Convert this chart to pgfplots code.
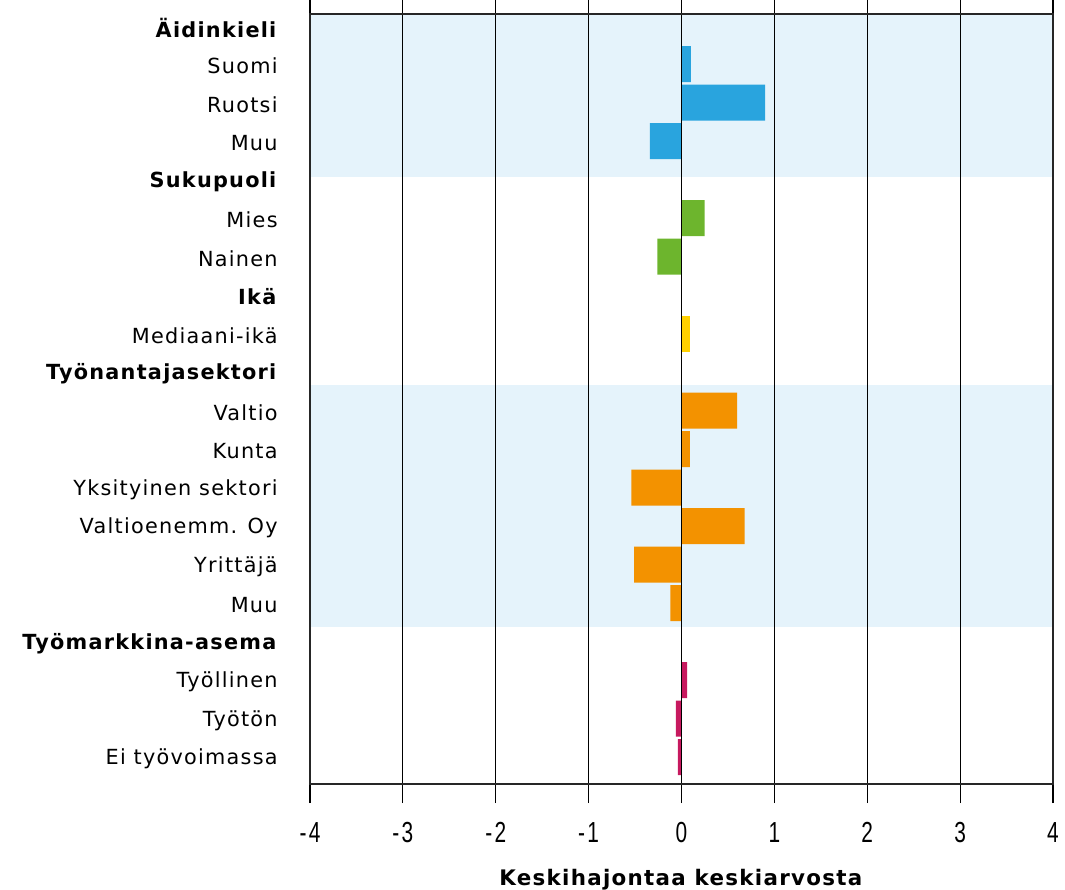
\documentclass[border=0pt]{standalone}
\usepackage{fontspec}
\setmainfont{DejaVu Sans}[LetterSpace=6]
\newfontfamily\cond{Liberation Sans}[FakeStretch=0.72, LetterSpace=8]
\usepackage{pgfplots}
\pgfplotsset{compat=1.18}
\definecolor{band}{HTML}{E5F3FB}
\definecolor{cblue}{HTML}{29A4DE}
\definecolor{cgreen}{HTML}{6DB52D}
\definecolor{cyellow}{HTML}{FFD100}
\definecolor{corange}{HTML}{F39200}
\definecolor{cmag}{HTML}{C7195F}
\begin{document}
\begin{tikzpicture}
\useasboundingbox (-155bp,-53bp) rectangle (377.5bp,392bp);
\begin{axis}[
  at={(0,0)}, anchor=south west,
  scale only axis,
  width=371.5bp, height=385bp,
  xmin=-4, xmax=4,
  ymin=-0.3, ymax=19.7,
  y dir=reverse,
  axis on top,
  axis line style={black!85, line width=0.7bp},
  xtick={-4,-3,-2,-1,0,1,2,3,4},
  xticklabels={-4,-3,-2,-1,0,1,2,3,4},
  xmajorgrids,
  grid style={black, line width=0.6bp},
  tick align=outside,
  major tick length=9.5bp,
  xtick style={black, line width=0.6bp},
  ytick style={draw=none},
  xticklabel style={font=\cond\fontsize{14.5bp}{16bp}\selectfont, anchor=north, yshift=-6bp},
  ytick={0,1,...,19},
  yticklabels={\textbf{Äidinkieli},Suomi,Ruotsi,Muu,\textbf{Sukupuoli},Mies,Nainen,\textbf{Ikä},Mediaani-ikä,\textbf{Työnantajasektori},Valtio,Kunta,Yksityinen sektori,Valtioenemm. Oy,Yrittäjä,Muu,\textbf{Työmarkkina-asema},Työllinen,Työtön,Ei työvoimassa},
  yticklabel style={font=\fontsize{10.4bp}{12bp}\selectfont, anchor=east, inner sep=0pt, xshift=-6.5bp, yshift=-1bp},
  xlabel={\textbf{Keskihajontaa keskiarvosta}},
  xlabel style={font=\fontsize{10.7bp}{12bp}\selectfont, at={(axis description cs:0.5,0)}, anchor=base, yshift=-50.5bp},
]
\fill[band] (axis cs:-4,-0.3) rectangle (axis cs:4,3.934);
\fill[band] (axis cs:-4,9.336) rectangle (axis cs:4,15.62);
\addplot[xbar, bar width=18bp, bar shift=0pt, fill=cblue, draw=none] coordinates {(0.10,1) (0.90,2) (-0.34,3)};
\addplot[xbar, bar width=18bp, bar shift=0pt, fill=cgreen, draw=none] coordinates {(0.25,5) (-0.26,6)};
\addplot[xbar, bar width=18bp, bar shift=0pt, fill=cyellow, draw=none] coordinates {(0.09,8)};
\addplot[xbar, bar width=18bp, bar shift=0pt, fill=corange, draw=none] coordinates {(0.60,10) (0.09,11) (-0.54,12) (0.68,13) (-0.51,14) (-0.12,15)};
\addplot[xbar, bar width=18bp, bar shift=0pt, fill=cmag, draw=none] coordinates {(0.06,17) (-0.06,18) (-0.04,19)};
\end{axis}
\end{tikzpicture}
\end{document}
